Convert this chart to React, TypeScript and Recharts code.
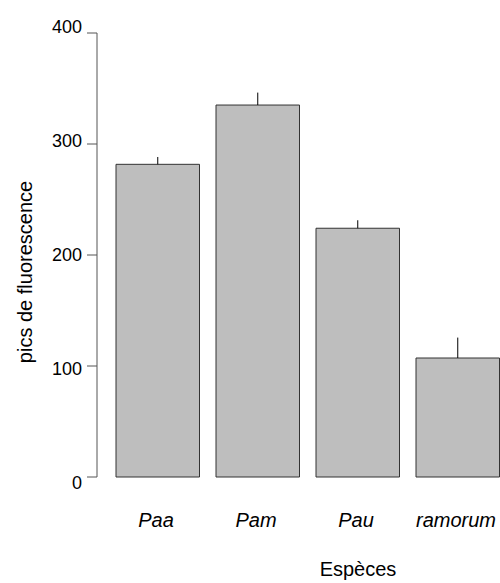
import {BarChart, Bar, XAxis, YAxis, ErrorBar} from "recharts";

const SPECIES = ["Paa", "Pam", "Pau", "ramorum"]
const PEAKS = [281.7, 335.1, 224.1, 107.2]
const ERRORS = [6.6, 11.2, 7.2, 18.4]
const Y_TICKS = [0, 100, 200, 300, 400]

const data = SPECIES.map((name, i) => ({
    name,
    value: PEAKS[i],
    err: [0, ERRORS[i]]
}))

const FONT = "'Liberation Sans', Arial, sans-serif"

const SpeciesTick = (props: any) => {
    const {x, y, payload} = props
    return (
        <text x={x} y={y} dx={-2} dy={50} textAnchor="middle" fill="#000"
              fontSize={20} fontStyle="italic" fontFamily={FONT}>
            {payload.value}
        </text>
    )
}

// the labels in the original sit a little spread out from the ticks
const ValueTick = (props: any) => {
    const {x, y, payload} = props
    const shift = (y - 255) * 0.028
    return (
        <text x={x} y={y + shift} textAnchor="end" dominantBaseline="central" fill="#000"
              fontSize={18} fontFamily={FONT}>
            {payload.value}
        </text>
    )
}

const App = () => {
    return (
        <div style={{position: "absolute", left: 0, top: 0, width: 500, height: 583, overflow: "hidden", background: "#fff"}}>
            <BarChart
                width={510}
                height={583}
                data={data}
                margin={{top: 33, right: 2, bottom: 26, left: 0}}
                style={{fontFamily: FONT}}
            >
                <XAxis
                    dataKey="name"
                    axisLine={false}
                    tickLine={false}
                    tickSize={0}
                    tickMargin={0}
                    interval={0}
                    height={80}
                    padding={{left: 11, right: 0}}
                    tick={<SpeciesTick/>}
                    label={{
                        content: () => (
                            <text x={358} y={576} textAnchor="middle" fontSize={20} fill="#000" fontFamily={FONT}>
                                Espèces
                            </text>
                        )
                    }}
                />
                <YAxis
                    width={97}
                    domain={[0, 400]}
                    ticks={Y_TICKS}
                    interval={0}
                    tickSize={10}
                    tickMargin={5}
                    axisLine={{stroke: "#555", strokeWidth: 1}}
                    tickLine={{stroke: "#555", strokeWidth: 1}}
                    tick={<ValueTick/>}
                    label={{
                        content: () => (
                            <text x={25} y={272} transform="rotate(-90, 25, 272)" textAnchor="middle"
                                  dominantBaseline="central" fontSize={20} fill="#000" fontFamily={FONT}>
                                pics de fluorescence
                            </text>
                        )
                    }}
                />
                <Bar dataKey="value" fill="#BEBEBE" stroke="#333" strokeWidth={1} barSize={83.5}
                     isAnimationActive={false}>
                    <ErrorBar dataKey="err" direction="y" width={0} stroke="#000" strokeWidth={1}
                              isAnimationActive={false}/>
                </Bar>
            </BarChart>
        </div>
    )
}

export default App
